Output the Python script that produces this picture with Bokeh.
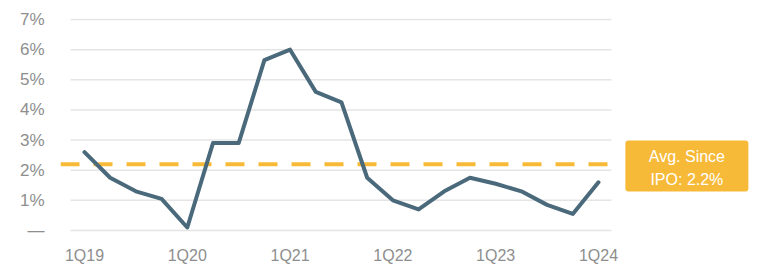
from bokeh.plotting import figure
from bokeh.models import Range1d, FixedTicker
from bokeh.core.properties import value
from bokeh.embed import file_html
from bokeh.resources import INLINE

quarters = ["1Q19", "2Q19", "3Q19", "4Q19",
            "1Q20", "2Q20", "3Q20", "4Q20",
            "1Q21", "2Q21", "3Q21", "4Q21",
            "1Q22", "2Q22", "3Q22", "4Q22",
            "1Q23", "2Q23", "3Q23", "4Q23",
            "1Q24"]
rates = [2.6, 1.75, 1.3, 1.05,
         0.1, 2.9, 2.9, 5.65,
         6.0, 4.6, 4.25, 1.75,
         1.0, 0.7, 1.3, 1.75,
         1.55, 1.3, 0.85, 0.55,
         1.6]
y_ticks = [0, 1, 2, 3, 4, 5, 6, 7]
y_labels = ["—", "1%", "2%", "3%", "4%", "5%", "6%", "7%"]
avg_since_ipo = 2.2
avg_label = ["Avg. Since", "IPO: 2.2%"]

FONT = "Liberation Sans"
LINE_COLOR = "#4A6A7C"
ORANGE = "#F7BA38"
GRID = "#E4E4E4"
LABEL = "#8E8E8E"

xs = list(range(len(quarters)))

p = figure(frame_width=704, frame_height=214, output_backend="svg", toolbar_location=None,
           x_range=Range1d(-0.933, 26.46), y_range=Range1d(-0.066, 7.034),
           min_border_left=60, min_border_right=0, min_border_top=18, min_border_bottom=30)
p.outline_line_color = None
p.xgrid.visible = False
p.ygrid.visible = False
p.background_fill_color = "white"
p.border_fill_color = "white"

# grid lines
n = len(y_ticks)
p.segment(x0=[-0.54] * n, x1=[20.5] * n, y0=y_ticks, y1=y_ticks,
          line_color=GRID, line_width=1.5)

# average dashed line
p.segment(x0=[-0.933], x1=[20.54], y0=[avg_since_ipo], y1=[avg_since_ipo],
          line_color=ORANGE, line_width=4, line_dash="19 14")

# main series
p.line(xs, rates, line_color=LINE_COLOR, line_width=4, line_join="round", line_cap="round")

# label box
p.rect(x=[23.44], y=[2.14], width=123, height=51, width_units="screen", height_units="screen",
       fill_color=ORANGE, line_color=None, border_radius=3)
p.text(x=[23.44, 23.44], y=[2.14, 2.14], text=avg_label, y_offset=[-10, 13],
       text_font=value(FONT), text_font_size="16px", text_color="white",
       text_align="center", text_baseline="middle")

# axes
p.xaxis.ticker = FixedTicker(ticks=[0, 4, 8, 12, 16, 20])
p.xaxis.major_label_overrides = {i: quarters[i] for i in [0, 4, 8, 12, 16, 20]}
p.yaxis.ticker = FixedTicker(ticks=y_ticks)
p.yaxis.major_label_overrides = {t: l for t, l in zip(y_ticks, y_labels)}
for ax in (p.xaxis[0], p.yaxis[0]):
    ax.axis_line_color = None
    ax.major_tick_line_color = None
    ax.minor_tick_line_color = None
    ax.major_label_text_font = FONT
    ax.major_label_text_font_size = "16px"
    ax.major_label_text_color = LABEL
p.yaxis.major_label_text_font_size = "17px"
p.xaxis.major_label_standoff = 8
p.yaxis.major_label_standoff = 10

open("out.html", "w").write(file_html(p, INLINE))
